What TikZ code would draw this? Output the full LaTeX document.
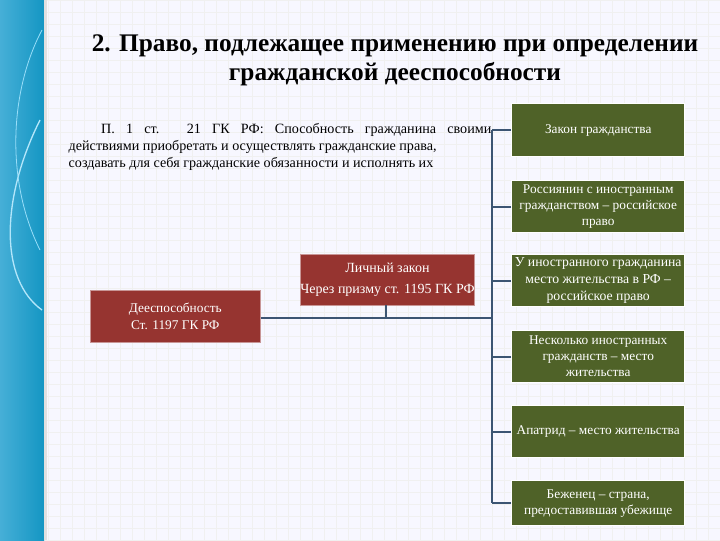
\documentclass[tikz,border=0pt]{standalone}
\usepackage{fontspec}
\setmainfont{Liberation Serif}
\begin{document}
\begin{tikzpicture}[x=0.75pt,y=-0.75pt,
  redbox/.style={fill={rgb,255:red,150;green,52;blue,48},draw={rgb,255:red,200;green,150;blue,150},text=white,font=\fontsize{10}{12.5}\selectfont,align=center,inner sep=0pt},
  greenbox/.style={fill={rgb,255:red,79;green,98;blue,40},draw=white,line width=0.8pt,text=white,font=\fontsize{10}{12}\selectfont,align=center,inner sep=0pt},
  conn/.style={draw={rgb,255:red,60;green,85;blue,115},line width=1.5pt}]
\useasboundingbox (0,0) rectangle (720,540);
\fill[white!97!blue] (0,0) rectangle (720,540);
\foreach \i in {0,12,...,720} \draw[black!6] (\i,0) -- (\i,540);
\foreach \i in {0,12,...,540} \draw[black!6] (0,\i) -- (720,\i);
\shade[left color={rgb,255:red,70;green,175;blue,215},right color={rgb,255:red,20;green,150;blue,195}] (0,0) rectangle (44,540);
\draw[white!70!cyan,line width=1pt] (40,120) .. controls (0,200) and (0,280) .. (42,310);
\draw[white!60!cyan,line width=0.6pt] (42,30) .. controls (10,90) and (5,180) .. (40,250);
\fill[black!12] (44,0) rectangle (47,540);
\node[font=\bfseries\fontsize{19}{22}\selectfont,align=center] (title) at (395,60) {2. Право, подлежащее применению при определении\\гражданской дееспособности};
\node[font=\fontsize{10.6}{12.5}\selectfont,align=justify,text width=317pt,anchor=north west] (para) at (64,119) {\hspace*{2.3em}П. 1 ст. 21 ГК РФ: Способность гражданина своими\linebreak действиями приобретать и осуществлять гражданские права,\\создавать для себя гражданские обязанности и исполнять их};
\node[redbox,minimum width=127.5pt,minimum height=39pt,anchor=north west] (a) at (90,290) {Дееспособность\\Ст. 1197 ГК РФ};
\node[redbox,font=\fontsize{10.5}{16}\selectfont,minimum width=130pt,minimum height=38pt,anchor=north west] (b) at (300,254) {Личный закон\\Через призму ст. 1195 ГК РФ};
\node[greenbox,minimum width=130pt,minimum height=40pt,anchor=north west] (g1) at (511,103) {Закон гражданства};
\node[greenbox,minimum width=130pt,minimum height=39pt,anchor=north west] (g2) at (511,180) {Россиянин с иностранным\\гражданством – российское\\право};
\node[greenbox,font=\fontsize{10.3}{12.5}\selectfont,minimum width=130pt,minimum height=39pt,anchor=north west] (g3) at (511,254) {У иностранного гражданина\\место жительства в РФ –\\российское право};
\node[greenbox,minimum width=130pt,minimum height=39pt,anchor=north west] (g4) at (511,330) {Несколько иностранных\\гражданств – место\\жительства};
\node[greenbox,minimum width=130pt,minimum height=39pt,anchor=north west] (g5) at (511,405) {Апатрид – место жительства};
\node[greenbox,minimum width=130pt,minimum height=34pt,anchor=north west] (g6) at (511,480) {Беженец – страна,\\предоставившая убежище};
\coordinate (top) at (492,130);
\coordinate (bot) at (492,503);
\coordinate (j) at (492,318);
\coordinate (jb) at (386,318);
\draw[conn] (top) -- (bot);
\foreach \g in {g1,g2,g3,g4,g5,g6} \draw[conn] (\g.west) -- (\g.west -| top);
\draw[conn] (a.east |- j) -- (j);
\draw[conn] (b.south -| jb) -- (jb);
\end{tikzpicture}
\end{document}
